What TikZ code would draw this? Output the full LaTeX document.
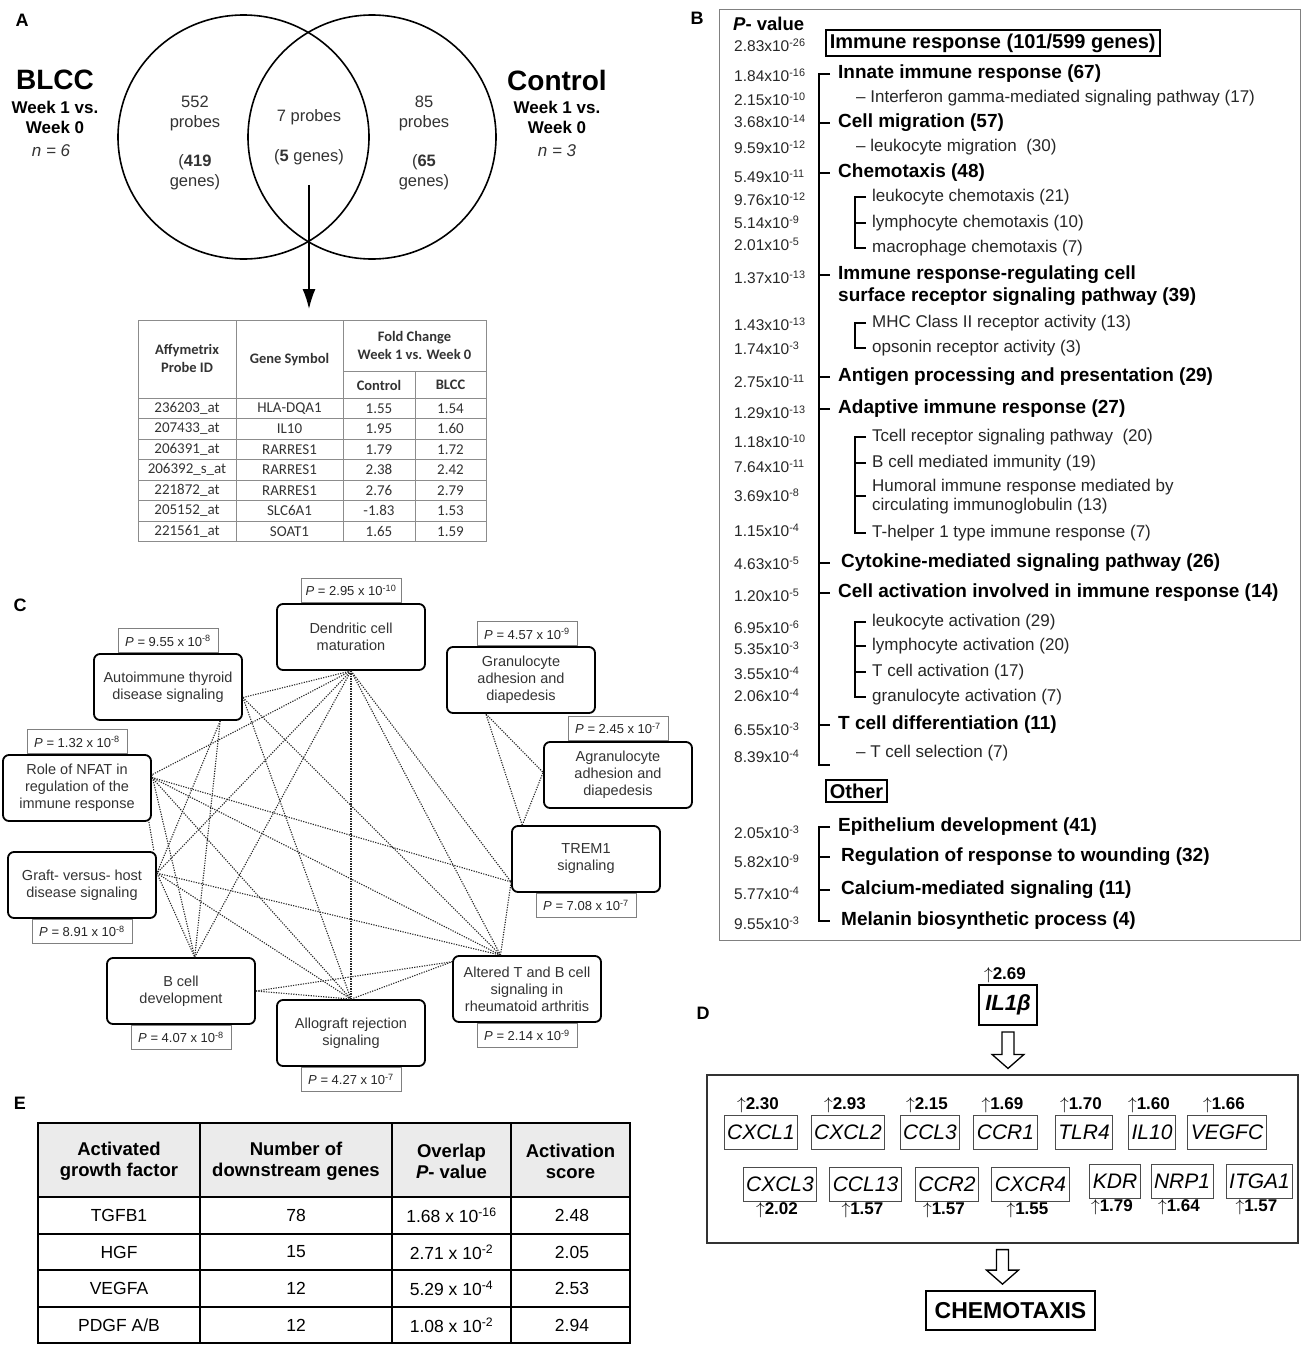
\documentclass[tikz,border=0pt]{standalone}
\usepackage{fontspec}
\setmainfont{Liberation Sans}
\newfontfamily\tabfont{Carlito}
\usetikzlibrary{positioning,calc,arrows.meta}

\newcommand\fs[2]{\fontsize{#1}{#2}\selectfont}
\newcommand\pvb[2]{#1x10\textsuperscript{#2}}
\newcommand\pvc[2]{\textit{P} = #1 x 10\textsuperscript{#2}}
\newcommand\pve[2]{#1 x 10\textsuperscript{#2}}
\newcommand\pdgfab{PDGF A/B}
% hollow block arrow from a top anchor down to a bottom anchor
\newcommand\blockarrow[2]{%
  \draw[block] let \p1=(#1), \p2=(#2) in
    (\x1-6pt,\y1-6pt) -- (\x1+6pt,\y1-6pt) -- (\x1+6pt,\y2+20pt) -- (\x1+16pt,\y2+20pt)
    -- (\x1,\y2+6pt) -- (\x1-16pt,\y2+20pt) -- (\x1-6pt,\y2+20pt) -- cycle;}

\tikzset{
  lbl/.style={font=\fs{18}{20}\bfseries, inner sep=0pt},
  venn/.style={line width=1.6pt},
  vtxt/.style={font=\fs{16.5}{19}, text=black!80, inner sep=0pt},
  grp/.style={font=\fs{17}{20}\bfseries, inner sep=0pt},
  tgrid/.style={draw=black!45, line width=0.8pt},
  thead/.style={font=\tabfont\fs{14.5}{18}\bfseries, text=black!80, align=center, inner sep=0pt},
  tcell/.style={font=\tabfont\fs{15}{18}, text=black!80, inner sep=0pt},
  netbox/.style={draw, line width=1.8pt, rounded corners=6pt, minimum width=148, minimum height=66,
    align=center, font=\fs{14.5}{17}, text=black!80},
  pbox/.style={draw=black!50, line width=0.8pt, minimum width=100, minimum height=24,
    inner sep=1pt, font=\fs{13}{14}, text=black!85},
  edge/.style={black!85, line width=1.1pt, dash pattern=on 1.2pt off 1.3pt},
  pval/.style={font=\fs{15.5}{18}, text=black!85, anchor=west, inner sep=0pt},
  main/.style={font=\fs{19}{22}\bfseries, anchor=west, inner sep=0pt},
  sub/.style={font=\fs{17}{20}, text=black!85, anchor=west, inner sep=0pt},
  brk/.style={line width=1.4pt},
  hbox/.style={draw, line width=1.8pt, font=\fs{20}{24}\bfseries, inner xsep=4pt, inner ysep=4pt, anchor=west},
  gbox/.style={draw=black!70, line width=1pt, font=\fs{21}{24}\itshape, minimum height=34,
    inner xsep=3pt, inner ysep=0pt},
  fc/.style={font=\fs{17}{20}\bfseries, inner sep=1pt},
  block/.style={line width=1.3pt, fill=white},
  etab/.style={line width=1.5pt},
  ehead/.style={font=\fs{18.5}{21}\bfseries, align=center},
  ecell/.style={font=\fs{17.5}{20}},
}

\begin{document}
\begin{tikzpicture}[x=1pt,y=-1pt]
\useasboundingbox (0,0) rectangle (1309,1347);

%% A: Venn diagram
\node[lbl] (labA) at (22,20) {A};
\draw[venn] (243.5,137) ellipse [x radius=125.5, y radius=122];
\draw[venn] (372,137) ellipse [x radius=124, y radius=122];
\node[grp, font=\fs{28}{30}\bfseries] (blcc) at (55,80) {BLCC};
\node[grp] (blccA) at (55,107) {Week 1 vs.};
\node[grp] (blccB) at (55,127) {Week 0};
\node[vtxt, font=\fs{17}{20}\itshape] (blccN) at (51,151) {n = 6};
\node[grp, font=\fs{28}{30}\bfseries] (ctl) at (557,80) {Control};
\node[grp] (ctlA) at (557,107) {Week 1 vs.};
\node[grp] (ctlB) at (557,127) {Week 0};
\node[vtxt, font=\fs{17}{20}\itshape] (ctlN) at (557,151) {n = 3};
\node[vtxt] (lnum) at (195,102) {552};
\node[vtxt] (lprb) at (195,123) {probes};
\node[vtxt] (lgn) at (195,162) {(\textbf{419}};
\node[vtxt] (lgs) at (195,182) {genes)};
\node[vtxt] (mprb) at (309,117) {7 probes};
\node[vtxt] (mgn) at (309,157) {(\textbf{5} genes)};
\node[vtxt] (rnum) at (424,102) {85};
\node[vtxt] (rprb) at (424,123) {probes};
\node[vtxt] (rgn) at (424,162) {(\textbf{65}};
\node[vtxt] (rgs) at (424,182) {genes)};
\coordinate (tabA) at (309,309);
\draw[line width=1.6pt, -{Latex[length=20pt,width=13pt]}] ([yshift=-20pt]mgn.south) -- (tabA);

%% A: probe table
\draw[tgrid] (138,320) rectangle (486,541.5);
\draw[tgrid] (236,320) -- (236,541.5) (343,320) -- (343,541.5) (415,371) -- (415,541.5)
  (343,371) -- (486,371);
\foreach \i in {0,...,6}
  \draw[tgrid] (138,398+20.5*\i) -- (486,398+20.5*\i);
\node[thead] (hprobe) at (187,358) {Affymetrix\\Probe ID};
\node[thead] (hgene) at (289.5,360) {Gene Symbol};
\node[thead] (hfold) at (414.5,345) {Fold Change\\Week 1 vs. Week 0};
\node[thead] (hctl) at (379,385) {Control};
\node[thead] (hblcc) at (450.5,385) {BLCC};
\foreach \i/\id/\g/\c/\b in {0/236203\_at/HLA-DQA1/1.55/1.54, 1/207433\_at/IL10/1.95/1.60,
  2/206391\_at/RARRES1/1.79/1.72, 3/206392\_s\_at/RARRES1/2.38/2.42, 4/221872\_at/RARRES1/2.76/2.79,
  5/205152\_at/SLC6A1/-1.83/1.53, 6/221561\_at/SOAT1/1.65/1.59}{
  \pgfmathsetmacro{\yy}{408.25+20.5*\i}
  \node[tcell] (id\i) at (187,\yy) {\id};
  \node[tcell] (gs\i) at (289.5,\yy) {\g};
  \node[tcell] (fc\i) at (379,\yy) {\c};
  \node[tcell] (fb\i) at (450.5,\yy) {\b};
}

%% C: pathway network
\node[lbl] (labC) at (20,605) {C};
\node[netbox] (DC) at (351,637) {Dendritic cell\\maturation};
\node[netbox] (AT) at (168,687) {Autoimmune thyroid\\disease signaling};
\node[netbox] (GR) at (521,680) {Granulocyte\\adhesion and\\diapedesis};
\node[netbox] (AG) at (618,775) {Agranulocyte\\adhesion and\\diapedesis};
\node[netbox] (NF) at (77,788) {Role of NFAT in\\regulation of the\\immune response};
\node[netbox] (TR) at (586,859) {TREM1\\signaling};
\node[netbox] (GV) at (82,885) {Graft- versus- host\\disease signaling};
\node[netbox] (BC) at (181,991) {B cell\\development};
\node[netbox] (AR) at (351,1033) {Allograft rejection\\signaling};
\node[netbox] (TB) at (527,989) {Altered T and B cell\\signaling in\\rheumatoid arthritis};
\node[pbox, above=0pt of DC] (pDC) {\pvc{2.95}{-10}};
\node[pbox, above=0pt of AT] (pAT) {\pvc{9.55}{-8}};
\node[pbox, above=0pt of GR, xshift=6pt] (pGR) {\pvc{4.57}{-9}};
\node[pbox, above=0pt of AG] (pAG) {\pvc{2.45}{-7}};
\node[pbox, above=0pt of NF] (pNF) {\pvc{1.32}{-8}};
\node[pbox, below=0pt of TR] (pTR) {\pvc{7.08}{-7}};
\node[pbox, below=0pt of GV] (pGV) {\pvc{8.91}{-8}};
\node[pbox, below=0pt of BC] (pBC) {\pvc{4.07}{-8}};
\node[pbox, below=0pt of AR] (pAR) {\pvc{4.27}{-7}};
\node[pbox, below=0pt of TB] (pTB) {\pvc{2.14}{-9}};
\foreach \a/\b in {DC.south/AT.-8, DC.south/NF.10, DC.south/GV.9, DC.south/BC.68,
  DC.south/AR.north, DC.south/TB.128, DC.south/TR.197, AT.-33/GV.9, AT.-33/BC.68,
  AT.-8/AR.north, AT.-8/TB.128, NF.10/BC.68, NF.8/AR.north, NF.8/TB.128, NF.8/TR.197,
  GV.9/BC.68, GV.9/AR.north, GV.9/TB.128, BC.east/AR.north, BC.east/TB.160,
  AR.north/TB.160, TB.128/TR.197, TR.152/GR.224, TR.152/AG.178, GR.224/AG.178}
  \draw[edge] (\a) -- (\b);
\draw[edge] ([xshift=-3pt]NF.south east) -- ([xshift=-3pt]GV.north east);

%% B: GO terms
\draw[black!50, line width=0.9pt] (719,9) rectangle (1300,940);
\node[lbl] (labB) at (697,18) {B};
\node[pval, font=\fs{18.5}{20}\bfseries, text=black] (pvhead) at (733,24) {\textit{P}- value};
\foreach \y/\m/\e in {45/2.83/-26, 75/1.84/-16, 99/2.15/-10, 121/3.68/-14, 147/9.59/-12,
  176/5.49/-11, 199/9.76/-12, 222/5.14/-9, 244/2.01/-5, 277/1.37/-13, 324/1.43/-13,
  348/1.74/-3, 381/2.75/-11, 412/1.29/-13, 441/1.18/-10, 466/7.64/-11, 495/3.69/-8,
  530/1.15/-4, 563/4.63/-5, 595/1.20/-5, 627/6.95/-6, 648/5.35/-3, 673/3.55/-4,
  695/2.06/-4, 729/6.55/-3, 756/8.39/-4, 832/2.05/-3, 861/5.82/-9, 893/5.77/-4, 923/9.55/-3}
  \node[pval] (pv\y) at (734,\y) {\pvb{\m}{\e}};
\node[hbox] (immune) at (825,43) {Immune response (101/599 genes)};
\node[hbox] (other) at (825,791) {Other};
\foreach \y/\t in {74/Innate immune response (67), 123/Cell migration (57), 173/Chemotaxis (48),
  275/Immune response-regulating cell, 297/surface receptor signaling pathway (39),
  377/Antigen processing and presentation (29), 409/Adaptive immune response (27),
  593/Cell activation involved in immune response (14), 725/T cell differentiation (11),
  827/Epithelium development (41)}
  \node[main] (m\y) at (838,\y) {\t};
\foreach \y/\t in {563/Cytokine-mediated signaling pathway (26),
  857/Regulation of response to wounding (32), 890/Calcium-mediated signaling (11),
  921/Melanin biosynthetic process (4)}
  \node[main] (m\y) at (841,\y) {\t};
\foreach \y/\t in {197/leukocyte chemotaxis (21), 223/lymphocyte chemotaxis (10),
  248/macrophage chemotaxis (7), 323/MHC Class II receptor activity (13),
  348/opsonin receptor activity (3), 437/Tcell receptor signaling pathway\ \ (20),
  463/B cell mediated immunity (19), 487/Humoral immune response mediated by,
  506/circulating immunoglobulin (13), 533/T-helper 1 type immune response (7),
  622/leukocyte activation (29), 646/lymphocyte activation (20), 672/T cell activation (17),
  697/granulocyte activation (7)}
  \node[sub] (s\y) at (872,\y) {\t};
\foreach \y/\t in {98/Interferon gamma-mediated signaling pathway (17),
  147/leukocyte migration\ \ (30), 753/T cell selection (7)}
  \node[sub] (s\y) at (856,\y) {–\ \t};
% brackets
\draw[brk] (830,74) -- (819,74) -- (819,765) -- (830,765);
\foreach \y in {123,173,275,377,409,563,593,725}
  \draw[brk] (819,\y) -- (830,\y);
\draw[brk] (866,197) -- (855,197) -- (855,248) -- (866,248) (855,223) -- (866,223);
\draw[brk] (866,323) -- (855,323) -- (855,348) -- (866,348);
\draw[brk] (866,437) -- (855,437) -- (855,533) -- (866,533) (855,463) -- (866,463)
  (855,496) -- (866,496);
\draw[brk] (866,622) -- (855,622) -- (855,697) -- (866,697) (855,646) -- (866,646)
  (855,672) -- (866,672);
\draw[brk] (830,827) -- (819,827) -- (819,921) -- (830,921);
\foreach \y in {857,890}
  \draw[brk] (819,\y) -- (830,\y);

%% D: IL1b targets
\node[lbl] (labD) at (703,1013) {D};
\node[draw, line width=1.8pt, minimum width=58, minimum height=40, inner sep=2pt,
  font=\fs{22}{24}\bfseries\itshape] (IL) at (1008,1005) {IL1β};
\node[fc, above=0pt of IL, xshift=-3pt] (fIL) {$\uparrow$2.69};
\node[draw, black!80, line width=1.2pt, minimum width=591, minimum height=168] (genes) at (1002.5,1159) {};
\foreach \n/\x/\v in {CXCL1/761/2.30, CXCL2/848/2.93, CCL3/930/2.15, CCR1/1005.5/1.69,
  TLR4/1084/1.70, IL10/1152/1.60, VEGFC/1227/1.66}{
  \node[gbox] (g\n) at (\x,1132) {\n};
  \node[fc, above=0pt of g\n, xshift=-3pt] (f\n) {$\uparrow$\v};
}
\foreach \n/\x/\y/\v in {CXCL3/780/1184/2.02, CCL13/865.5/1184/1.57, CCR2/947/1184/1.57,
  CXCR4/1030.5/1184/1.55, KDR/1115/1181/1.79, NRP1/1182/1181/1.64, ITGA1/1259.5/1181/1.57}{
  \node[gbox] (g\n) at (\x,\y) {\n};
  \node[fc, below=0pt of g\n, xshift=-3pt] (f\n) {$\uparrow$\v};
}
\node[draw, line width=1.8pt, minimum width=169, minimum height=39, inner sep=2pt,
  font=\fs{23}{25}\bfseries] (chemo) at (1010.5,1310.5) {CHEMOTAXIS};
\blockarrow{IL.south}{genes.north}
\blockarrow{genes.south}{chemo.north}

%% E: growth factor table
\node[lbl] (labE) at (20,1103) {E};
\fill[black!8] (38,1123) rectangle (630,1197);
\draw[etab] (38,1123) rectangle (630,1343);
\draw[etab] (200,1123) -- (200,1343) (392,1123) -- (392,1343) (511,1123) -- (511,1343);
\foreach \y in {1197,1234,1270,1307}
  \draw[etab] (38,\y) -- (630,\y);
\node[ehead] (e1) at (119,1161) {Activated\\growth factor};
\node[ehead] (e2) at (296,1161) {Number of\\downstream genes};
\node[ehead] (e3) at (451.5,1161) {Overlap\\\textit{P}- value};
\node[ehead] (e4) at (570.5,1161) {Activation\\score};
\foreach \i/\f/\n/\m/\e/\s in {0/TGFB1/78/1.68/-16/2.48, 1/HGF/15/2.71/-2/2.05,
  2/VEGFA/12/5.29/-4/2.53, 3/\pdgfab/12/1.08/-2/2.94}{
  \pgfmathsetmacro{\yy}{1215.5+36.5*\i}
  \node[ecell] (ef\i) at (119,\yy) {\f};
  \node[ecell] (en\i) at (296,\yy) {\n};
  \node[ecell] (ep\i) at (451.5,\yy) {\pve{\m}{\e}};
  \node[ecell] (es\i) at (572,\yy) {\s};
}
\end{tikzpicture}
\end{document}
